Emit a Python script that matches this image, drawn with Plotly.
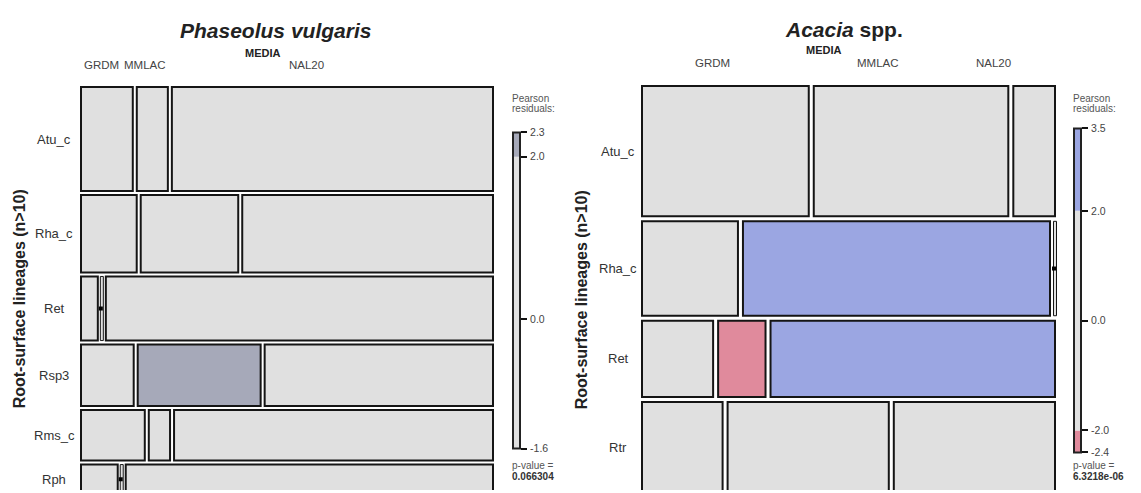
import numpy as np
import plotly.graph_objects as go

# ---------------- data ----------------
media = ["GRDM", "MMLAC", "NAL20"]

phas_lineages = ["Atu_c", "Rha_c", "Ret", "Rsp3", "Rms_c", "Rph"]
phas_grdm = [5, 4, 1, 3, 3, 1]
phas_mmlac = [3, 7, 0, 7, 1, 0]
phas_nal20 = [31, 18, 23, 13, 15, 10]
phas_resid_range = [-1.6, 2.3]
phas_pvalue = "0.066304"

acac_lineages = ["Atu_c", "Rha_c", "Ret", "Rtr"]
acac_grdm = [12, 5, 3, 4]
acac_mmlac = [14, 16, 2, 8]
acac_nal20 = [3, 0, 12, 8]
acac_resid_range = [-2.4, 3.5]
acac_pvalue = "6.3218e-06"

resid_cut = 2.0

# ---------------- style / layout ----------------
W, H = 1141, 493
FONT = "Liberation Sans, Arial, Helvetica, sans-serif"
GRAY = "#E0E0E0"
EDGE = "#151515"


def px(x):
    return x / W


def py(y):
    return 1 - y / H


fig = go.Figure()
layout = dict(
    width=W, height=H, margin=dict(l=0, r=0, t=0, b=0),
    paper_bgcolor="white", plot_bgcolor="rgba(0,0,0,0)",
    showlegend=False, font=dict(family=FONT, color="#333"),
)
shapes, annotations = [], []


def axname(k, a):
    return f"{a}axis" if k == 1 else f"{a}axis{k}"


def ref(k, a):
    return a if k == 1 else f"{a}{k}"


def add_mosaic(k, lineages, cols, box, gap, pos_color, neg_color, label_x):
    counts = np.array(cols, dtype=float).T
    R, C = counts.shape
    row_tot = counts.sum(1)
    col_tot = counts.sum(0)
    n = counts.sum()
    expected = np.outer(row_tot, col_tot) / n
    resid = (counts - expected) / np.sqrt(expected)

    x0p, x1p, y0p, y1p = box
    sx = x1p - x0p - (C - 1) * gap
    sy = y1p - y0p - (R - 1) * gap
    gx, gy = gap / sx, gap / sy
    pad = 3
    xr, yr = ref(k, "x"), ref(k, "y")
    layout[axname(k, "x")] = dict(domain=[px(x0p - pad), px(x1p + pad)],
                                  range=[-pad / sx, (x1p - x0p + pad) / sx],
                                  visible=False, anchor=yr, fixedrange=True)
    layout[axname(k, "y")] = dict(domain=[0, py(y0p - pad)],
                                  range=[(H - y0p) / sy, -pad / sy],
                                  visible=False, anchor=xr, fixedrange=True)
    zx, zy = [], []
    y = 0.0
    for i in range(R):
        h = row_tot[i] / n
        x = 0.0
        for j in range(C):
            w = counts[i, j] / row_tot[i]
            if counts[i, j] == 0:
                hw = 1.5 / sx
                shapes.append(dict(type="rect", xref=xr, yref=yr, x0=x - hw, x1=x + hw,
                                   y0=y, y1=y + h, fillcolor=GRAY, layer="below",
                                   line=dict(color=EDGE, width=1)))
                zx.append(x - 1.0 / sx)
                zy.append(y + h / 2)
            else:
                r = resid[i, j]
                fill = pos_color if r > resid_cut else (neg_color if r < -resid_cut else GRAY)
                shapes.append(dict(type="rect", xref=xr, yref=yr, x0=x, x1=x + w,
                                   y0=y, y1=y + h, fillcolor=fill, layer="below",
                                   line=dict(color=EDGE, width=2)))
            x += w + gx
        annotations.append(dict(text=lineages[i], xref="paper", yref=yr,
                                x=px(label_x), y=y + h / 2, showarrow=False,
                                xanchor="center", yanchor="middle",
                                font=dict(size=13, color="#333")))
        y += h + gy
    fig.add_trace(go.Scatter(x=zx, y=zy, mode="markers", xaxis=xr, yaxis=yr,
                             marker=dict(size=4, color="black", symbol="square"),
                             hoverinfo="skip"))


def add_legend(k, rng, bar, pos_color, neg_color, pvalue):
    lo, hi = rng
    bl, br, top, bot = bar
    pad = 3
    s = (bot - top) / (hi - lo)
    bw = br - bl
    xr, yr = ref(k, "x"), ref(k, "y")
    ticks = [hi, resid_cut, 0.0] + ([-resid_cut] if lo < -resid_cut else []) + [lo]
    layout[axname(k, "x")] = dict(domain=[px(bl - pad), px(br + pad)],
                                  range=[-pad / bw, 1 + pad / bw],
                                  visible=False, anchor=yr, fixedrange=True)
    layout[axname(k, "y")] = dict(domain=[py(bot + pad), py(top - pad)],
                                  range=[lo - pad / s, hi + pad / s],
                                  anchor="free", position=px(br), side="right",
                                  showgrid=False, zeroline=False, showline=False,
                                  ticks="outside", ticklen=6, tickwidth=2, tickcolor="#111",
                                  tickvals=ticks, ticktext=[f"{t:.1f}" for t in ticks],
                                  tickfont=dict(size=10.5, color="#444", family=FONT),
                                  ticklabelstandoff=1, fixedrange=True)
    segs = []
    if lo < -resid_cut:
        segs.append((lo, -resid_cut, neg_color))
    segs.append((max(lo, -resid_cut), min(hi, resid_cut), GRAY))
    if hi > resid_cut:
        segs.append((resid_cut, hi, pos_color))
    for a, b, c in segs:
        shapes.append(dict(type="rect", xref=xr, yref=yr, x0=0, x1=1, y0=a, y1=b,
                           fillcolor=c, line=dict(width=0)))
    shapes.append(dict(type="rect", xref=xr, yref=yr, x0=0, x1=1, y0=lo, y1=hi,
                       line=dict(color="#222", width=2)))
    fig.add_trace(go.Scatter(x=[0.5], y=[0], mode="markers", xaxis=xr, yaxis=yr,
                             marker=dict(size=1, opacity=0), hoverinfo="skip"))
    tx = px(bl - 3)
    for txt, yy, bold in [("Pearson", 97, False), ("residuals:", 107, False),
                          ("p-value =", 468, False), (pvalue, 479, True)]:
        annotations.append(dict(text=f"<b>{txt}</b>" if bold else txt, xref="paper",
                                yref="paper", x=tx, y=py(yy), showarrow=False,
                                xanchor="left", yanchor="middle",
                                font=dict(size=10, color="#333" if bold else "#555")))


# mosaics
add_mosaic(1, phas_lineages, [phas_grdm, phas_mmlac, phas_nal20],
           box=(81, 493, 85, 497), gap=4,
           pos_color="#A6A9B9", neg_color="#C3AAAE", label_x=54)
add_mosaic(2, acac_lineages, [acac_grdm, acac_mmlac, acac_nal20],
           box=(642, 1055, 84, 495), gap=5,
           pos_color="#9BA6E2", neg_color="#E08A9C", label_x=618)

# legends
add_legend(3, phas_resid_range, (513, 520, 131, 451), "#A6A9B9", "#C3AAAE", phas_pvalue)
add_legend(4, acac_resid_range, (1074, 1081, 127, 455), "#9BA6E2", "#E08A9C", acac_pvalue)

# titles and labels
for txt, x, y in [("<b><i>Phaseolus vulgaris</i></b>", 275, 28),
                  ("<b><i>Acacia</i> spp.</b>", 844, 27)]:
    annotations.append(dict(text=txt, xref="paper", yref="paper", x=px(x), y=py(y),
                            showarrow=False, xanchor="center", yanchor="middle",
                            font=dict(size=21, color="#222")))
for x, y in [(263, 51), (824, 48)]:
    annotations.append(dict(text="<b>MEDIA</b>", xref="paper", yref="paper", x=px(x),
                            y=py(y), showarrow=False, xanchor="center", yanchor="middle",
                            font=dict(size=11, color="#222")))
for labs_x, y in [((102, 145, 306), 63), ((712, 878, 993), 61)]:
    for lab, x in zip(media, labs_x):
        annotations.append(dict(text=lab, xref="paper", yref="paper", x=px(x), y=py(y),
                                showarrow=False, xanchor="center", yanchor="middle",
                                font=dict(size=11.5, color="#444")))
for x in (19, 581):
    annotations.append(dict(text="<b>Root-surface lineages (n>10)</b>", xref="paper",
                            yref="paper", x=px(x), y=py(300), textangle=-90,
                            showarrow=False, xanchor="center", yanchor="middle",
                            font=dict(size=16, color="#222")))

layout["shapes"] = shapes
layout["annotations"] = annotations
fig.update_layout(**layout)
fig.write_html("out.html", config={"displayModeBar": False},
               post_script="document.body.style.margin='0';document.body.style.overflow='hidden';")
